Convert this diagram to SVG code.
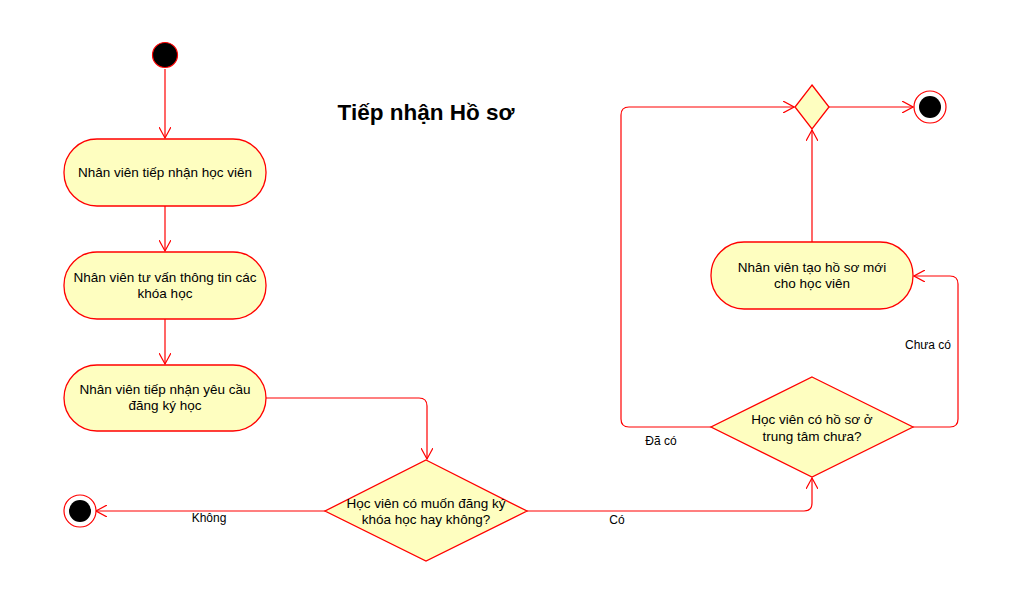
<svg xmlns="http://www.w3.org/2000/svg" width="1015" height="600" viewBox="0 0 1015 600">
<style>
.n{fill:#FEFEC0;stroke:#FF0000;stroke-width:1.3}
.t{font-family:"Liberation Sans",Arial,sans-serif;font-size:13.5px;fill:#000;text-anchor:middle}
.l{font-family:"Liberation Sans",Arial,sans-serif;font-size:12px;fill:#000;text-anchor:middle}
.c{fill:none;stroke:#FF0000;stroke-width:1.2}
</style>
<defs>
<marker id="a" viewBox="0 0 12 12" refX="11" refY="6" markerWidth="12" markerHeight="12" orient="auto" markerUnits="userSpaceOnUse">
<path d="M0,0 L11,6 L0,12" fill="none" stroke="#FF0000" stroke-width="1.2"/>
</marker>
</defs>
<rect width="1015" height="600" fill="#fff"/>
<text x="426" y="120" font-family="Liberation Sans,Arial,sans-serif" font-size="22.5" font-weight="bold" text-anchor="middle">Tiếp nhận Hồ sơ</text>
<g id="connectors">
<path class="c" d="M165,69 V138" marker-end="url(#a)"/>
<path class="c" d="M165,206 V251" marker-end="url(#a)"/>
<path class="c" d="M165,319 V364" marker-end="url(#a)"/>
<path class="c" d="M266,398 H419 Q427,398 427,406 V459" marker-end="url(#a)"/>
<path class="c" d="M325,511 H96" marker-end="url(#a)"/>
<path class="c" d="M527,511 H804 Q812,511 812,503 V478" marker-end="url(#a)"/>
<path class="c" d="M913,427 H950 Q958,427 958,419 V284 Q958,276 950,276 H914" marker-end="url(#a)"/>
<path class="c" d="M711,427 H629 Q621,427 621,419 V115 Q621,107 629,107 H794" marker-end="url(#a)"/>
<path class="c" d="M812,242 V130" marker-end="url(#a)"/>
<path class="c" d="M829,107 H913" marker-end="url(#a)"/>
<text class="l" x="209" y="522">Không</text>
<text class="l" x="617" y="524">Có</text>
<text class="l" x="928" y="349">Chưa có</text>
<text class="l" x="661" y="445">Đã có</text>
</g>
<g id="start"><circle cx="165" cy="55" r="12.5" fill="#000" stroke="#FF0000" stroke-width="1.2"/></g>
<g id="node1"><rect class="n" x="64" y="139" width="202" height="67" rx="33"/><text class="t" x="165" y="177">Nhân viên tiếp nhận học viên</text></g>
<g id="node2"><rect class="n" x="64" y="252" width="202" height="67" rx="33"/><text class="t" x="165" y="282">Nhân viên tư vấn thông tin các</text><text class="t" x="165" y="298">khóa học</text></g>
<g id="node3"><rect class="n" x="64" y="365" width="202" height="66" rx="33"/><text class="t" x="165" y="394">Nhân viên tiếp nhận yêu cầu</text><text class="t" x="165" y="410">đăng ký học</text></g>
<g id="decision1"><polygon class="n" points="426,460 527,511 426,561 325,511"/><text class="t" x="426" y="508">Học viên có muốn đăng ký</text><text class="t" x="426" y="524">khóa học hay không?</text></g>
<g id="end1"><circle cx="80" cy="511" r="16" fill="#fff" stroke="#FF0000" stroke-width="1.2"/><circle cx="80" cy="511" r="11" fill="#000"/></g>
<g id="decision2"><polygon class="n" points="812,377 913,427 812,477 711,427"/><text class="t" x="812" y="424">Học viên có hồ sơ ở</text><text class="t" x="812" y="441">trung tâm chưa?</text></g>
<g id="node4"><rect class="n" x="711" y="242" width="202" height="67" rx="33"/><text class="t" x="812" y="272">Nhân viên tạo hồ sơ mới</text><text class="t" x="812" y="288">cho học viên</text></g>
<g id="merge"><polygon class="n" points="812,85 829,107 812,129 795,107"/></g>
<g id="end2"><circle cx="930" cy="107" r="16" fill="#fff" stroke="#FF0000" stroke-width="1.2"/><circle cx="930" cy="107" r="11" fill="#000"/></g>
</svg>
